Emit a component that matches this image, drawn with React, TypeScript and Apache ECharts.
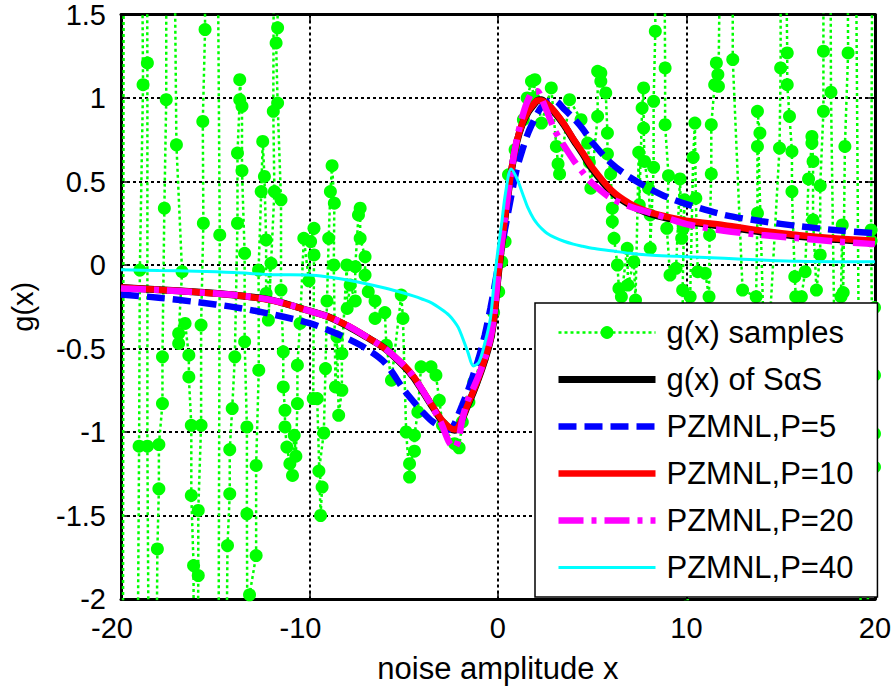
import React, { useEffect, useRef } from 'react';
import * as echarts from 'echarts';

const FONT = '"Liberation Sans", Arial, Helvetica, sans-serif';

const legendNames = ['g(x) samples', 'g(x) of S\u03b1S', 'PZMNL,P=5', 'PZMNL,P=10', 'PZMNL,P=20', 'PZMNL,P=40'];

// noisy samples of g(x) in order of x; values beyond the axis range are clipped
const samplePts: [number, number][] = [
  [-19.85, 3], [-19.9, -3],
  [-19.15, -3], [-19.04, -1.085], [-19.0, -0.03], [-18.83, 1.08], [-18.95, 3],
  [-18.65, 3], [-18.6, 1.21], [-18.6, -1.085], [-18.5, -3],
  [-18.15, -3], [-18.07, -1.7], [-17.99, -1.34], [-17.99, -1.075], [-17.8, -0.83], [-17.8, -0.55], [-17.7, 0.34], [-17.6, 0.99], [-17.6, 3],
  [-17.25, 3], [-17.06, 0.72], [-16.76, -0.04], [-16.94, -0.41], [-16.94, -0.47], [-16.6, -0.35], [-16.4, -0.54], [-16.4, -0.67], [-16.27, -0.96], [-16.27, -1.38], [-16.15, -1.8], [-16.15, -3],
  [-15.95, -3], [-15.9, -1.86], [-15.9, -1.47], [-15.75, -0.96], [-15.75, -0.36], [-15.63, 0.25], [-15.66, 0.86], [-15.54, 1.41], [-15.57, 3],
  [-14.93, 3], [-14.76, 0.18], [-14.84, -3],
  [-14.45, -3], [-14.35, -1.68], [-14.23, -1.37], [-14.23, -1.105], [-14.1, -0.86], [-13.96, -0.55], [-13.82, 0.25], [-13.82, 0.67], [-13.7, 0.99], [-13.7, 1.11], [-13.58, 0.95], [-13.58, 0.565], [-13.44, 0.07], [-13.44, -0.46], [-13.32, -0.97], [-13.32, -1.49], [-13.27, -3],
  [-13.09, -3], [-13.18, -1.975], [-12.83, -1.74], [-12.83, -1.2], [-12.69, -0.63], [-12.7, -0.03], [-12.56, 0.44], [-12.48, 0.74], [-12.39, 0.53], [-12.3, 0.15], [-12.3, -0.17], [-12.04, 0.01], [-12.18, -0.33], [-11.86, 0.44], [-11.92, 0.92], [-11.86, 3],
  [-11.7, 3], [-11.69, 1.42], [-11.77, 1.33], [-11.69, 0.97], [-11.51, 0.39], [-11.51, -0.15], [-11.39, -0.52], [-11.39, -0.73], [-11.3, -0.87], [-11.3, -0.97], [-11.2, -1.09], [-11.04, -1.19], [-10.9, -1.26], [-10.81, -1.02], [-10.72, -1.145], [-10.64, -0.83], [-10.64, -0.6], [-10.5, -0.35],
  [-10.3, 0.16], [-10.03, -0.095], [-9.94, 0.14], [-9.76, 0.22], [-9.76, 0.06], [-9.8, -0.8], [-9.59, -0.8], [-9.41, -1.5], [-9.33, -1.33], [-9.5, -1.234], [-9.24, -1.006], [-9.15, -0.62], [-9.07, -0.215],
  [-8.98, 0.16], [-8.89, 0.44], [-8.8, 0.595], [-8.68, 0.37], [-8.71, 0.0], [-8.62, -0.73], [-8.54, -0.43], [-8.45, -0.9], [-8.28, -0.75], [-8.28, -0.53], [-8.02, 0.0], [-8.0, -0.26],
  [-7.84, -0.12], [-7.57, -0.215], [-7.57, -0.01], [-7.4, 0.3], [-7.31, 0.34], [-7.31, 0.16], [-7.05, 0.05], [-7.05, -0.06], [-6.88, -0.16], [-6.52, -0.215], [-6.52, -0.32],
  [-6.0, -0.285], [-5.92, -0.48], [-5.65, -0.69], [-5.13, -0.18], [-5.04, -0.32], [-4.87, -1.0], [-4.69, -1.27], [-4.69, -1.19], [-4.43, -1.115], [-4.43, -1.02], [-4.25, -0.88], [-4.08, -0.61],
  [-3.55, -0.61], [-3.29, -0.66], [-3.11, -0.81], [-2.94, -0.96], [-2.3, -1.07], [-2.06, -1.095], [-1.89, -0.94], [-1.54, -0.82], [-1.28, -0.7], [-0.84, -0.56], [-0.49, -0.42], [-0.23, -0.285],
  [0.04, -0.16], [0.2, 0.02], [0.38, 0.14], [0.56, 0.54], [0.91, 0.69], [1.35, 0.87], [1.55, 1.0], [1.78, 1.1], [1.9, 1.0], [1.96, 1.11], [2.31, 0.85], [2.83, 1.06], [3.1, 0.71], [3.19, 0.605], [3.27, 0.545],
  [3.8, 0.99], [4.41, 0.87], [4.76, 0.73], [4.85, 0.615], [4.93, 0.46], [5.29, 0.89], [5.29, 1.16], [5.46, 1.15], [5.46, 1.1], [5.72, 1.03], [5.81, 0.79], [5.81, 0.665], [5.98, 0.545],
  [6.07, 0.34], [6.07, 0.26], [6.16, 0.16], [6.34, 0.0], [6.42, -0.14], [6.55, -0.19], [6.86, 0.1], [6.9, -0.12], [7.21, 0.02], [7.3, -0.21], [7.47, 0.675], [7.5, 0.36], [7.65, 0.94], [7.73, 1.06], [7.73, 0.82], [7.78, 0.62], [7.99, 0.46], [8.08, 0.3], [8.08, 0.1], [8.26, 0.585], [8.26, 0.98], [8.35, 1.4], [8.35, 3],
  [8.78, 3], [8.87, 1.18], [8.87, 0.84], [9.05, 0.535], [8.96, 0.22], [9.13, -0.06], [9.45, -0.02], [9.66, 0.515], [9.75, 0.16], [9.83, 0.22], [9.9, 0.39], [9.8, -0.15], [10.0, -3],
  [10.2, -0.19], [10.36, 0.645], [10.45, 0.85], [10.5, 0.4], [10.6, -0.04], [11.0, -0.05], [11.2, -0.19], [11.23, 0.18], [11.32, 0.545], [11.32, 0.84], [11.5, 1.08], [11.59, 1.21], [11.67, 1.14], [11.7, 1.07], [11.9, 3],
  [12.45, 3], [12.46, 1.23], [12.98, -0.15], [13.7, -0.19], [13.77, 0.31], [13.77, 0.71], [13.9, 0.79], [13.77, 0.92], [14.2, -0.8], [14.94, 0.7], [15.0, 1.18], [15.0, 3],
  [15.17, 3], [15.35, 1.27], [15.35, 1.08], [15.47, 0.89], [15.6, 0.68], [15.6, 0.44], [15.75, -0.07], [15.8, -0.19], [15.9, -0.8], [16.1, -0.19], [16.3, -0.04], [16.48, 0.515], [16.66, 0.73], [16.66, 0.77], [16.72, 0.62], [16.72, 0.27], [16.9, -0.15], [17.1, 0.06], [17.1, 0.475], [17.27, 0.92], [17.27, 1.28], [17.27, 3],
  [17.62, 3], [17.67, 1.035], [17.9, -0.8], [18.2, -0.19], [18.27, 0.24], [18.32, -0.165], [18.41, 0.71], [18.58, 1.27], [18.5, 3],
  [18.93, 3], [19.3, -3],
  [19.63, -3], [19.63, -1.35], [19.98, -1.21], [19.98, -1.01], [19.98, -0.66], [19.98, -0.255], [19.84, -0.27], [19.8, 0.145], [19.8, 0.21], [19.9, 3],
];

const curveX = [-20, -18, -16, -14, -12, -10, -9, -8, -7, -6, -5, -4.5, -4, -3.5, -3, -2.6, -2.3, -2.1, -1.9, -1.6, -1.3, -1, -0.7, -0.4, -0.2, 0, 0.2, 0.4, 0.7, 1, 1.3, 1.6, 1.9, 2.1, 2.3, 2.6, 3, 3.5, 4, 4.5, 5, 6, 7, 8, 9, 10, 12, 14, 16, 18, 20];

const gSaS = [-0.135, -0.148, -0.162, -0.18, -0.21, -0.275, -0.31, -0.365, -0.43, -0.5, -0.605, -0.67, -0.755, -0.845, -0.93, -0.975, -0.99, -0.975, -0.925, -0.84, -0.76, -0.67, -0.57, -0.45, -0.31, -0.08, 0.12, 0.3, 0.55, 0.735, 0.845, 0.915, 0.96, 0.985, 0.99, 0.965, 0.915, 0.84, 0.75, 0.665, 0.575, 0.44, 0.36, 0.31, 0.28, 0.26, 0.23, 0.198, 0.17, 0.152, 0.138];

const pz5 = [-0.176, -0.196, -0.222, -0.252, -0.295, -0.348, -0.39, -0.44, -0.5, -0.585, -0.745, -0.815, -0.88, -0.935, -0.97, -0.987, -0.95, -0.895, -0.84, -0.755, -0.655, -0.55, -0.42, -0.26, -0.14, -0.01, 0.11, 0.23, 0.41, 0.575, 0.69, 0.79, 0.865, 0.91, 0.945, 0.975, 0.985, 0.935, 0.88, 0.815, 0.735, 0.61, 0.525, 0.46, 0.405, 0.365, 0.3, 0.262, 0.232, 0.208, 0.19];

const pz10 = [-0.135, -0.148, -0.162, -0.18, -0.212, -0.275, -0.31, -0.362, -0.428, -0.5, -0.6, -0.665, -0.75, -0.84, -0.925, -0.97, -0.985, -0.97, -0.92, -0.835, -0.755, -0.665, -0.565, -0.445, -0.305, -0.075, 0.125, 0.305, 0.555, 0.74, 0.85, 0.92, 0.965, 0.985, 0.985, 0.965, 0.92, 0.845, 0.755, 0.672, 0.585, 0.45, 0.368, 0.318, 0.288, 0.265, 0.238, 0.205, 0.178, 0.158, 0.145];

const pz20 = [-0.14, -0.15, -0.163, -0.18, -0.21, -0.275, -0.31, -0.362, -0.428, -0.5, -0.6, -0.665, -0.75, -0.845, -0.95, -1.06, -1.095, -1.05, -0.93, -0.81, -0.735, -0.655, -0.56, -0.44, -0.3, -0.07, 0.13, 0.31, 0.56, 0.75, 0.89, 0.99, 1.04, 1.04, 1.0, 0.92, 0.81, 0.715, 0.63, 0.555, 0.49, 0.4, 0.35, 0.315, 0.28, 0.245, 0.205, 0.18, 0.16, 0.14, 0.125];

const pz40 = [-0.028, -0.033, -0.037, -0.045, -0.058, -0.06, -0.072, -0.09, -0.112, -0.138, -0.168, -0.185, -0.205, -0.228, -0.265, -0.3, -0.34, -0.375, -0.43, -0.52, -0.605, -0.58, -0.47, -0.32, -0.1, 0.09, 0.25, 0.43, 0.575, 0.52, 0.43, 0.34, 0.275, 0.245, 0.22, 0.19, 0.165, 0.142, 0.125, 0.112, 0.1, 0.085, 0.07, 0.06, 0.054, 0.05, 0.04, 0.03, 0.022, 0.02, 0.02];

const pairs = (ys: number[]) => curveX.map((x, i) => [x, ys[i]]);

const GREEN = '#00ff00';
const styles = [
  { color: GREEN, width: 2.5, type: [3, 3] as any },
  { color: '#000000', width: 7, type: 'solid' as any },
  { color: '#0000ff', width: 6.5, type: [18, 8] as any },
  { color: '#ff0000', width: 6.5, type: 'solid' as any },
  { color: '#ff00ff', width: 6.5, type: [25, 8, 5, 8] as any },
  { color: '#00ffff', width: 3, type: 'solid' as any },
];

export default function App() {
  const ref = useRef<HTMLDivElement>(null);
  useEffect(() => {
    if (!ref.current) return;
    const chart = echarts.init(ref.current, null, { renderer: 'svg' });
    const axisLine = { show: true, onZero: false, lineStyle: { color: '#000', width: 3 } };
    const tick = { show: true, inside: true, length: 8, lineStyle: { color: '#000', width: 1.5 } };
    const split = { show: true, lineStyle: { color: '#000', width: 2, type: [3, 3] } };
    const labelStyle = { color: '#000', fontSize: 29, fontFamily: FONT };
    const curve = (i: number, ys: number[], z: number) => ({
      name: legendNames[i], type: 'line', data: pairs(ys), symbol: 'none', smooth: 0.3, clip: true, z,
      lineStyle: { ...styles[i] }, itemStyle: { color: styles[i].color }, silent: true,
    });
    chart.setOption({
      animation: false,
      textStyle: { fontFamily: FONT },
      grid: { left: 116, right: 16, top: 10, bottom: 88, containLabel: false },
      xAxis: [
        {
          type: 'value', min: -20, max: 20, interval: 10, position: 'bottom',
          axisLine, axisTick: tick, splitLine: split,
          axisLabel: {
            ...labelStyle, margin: 14,
            formatter: (v: number) => (v < 0 ? `{n|${v}}` : `${v}`),
            rich: { n: { ...labelStyle, padding: [0, 18, 0, 0] } },
          },
          name: 'noise amplitude x', nameLocation: 'middle', nameGap: 54,
          nameTextStyle: { ...labelStyle, fontSize: 31 },
        },
        {
          type: 'value', min: -20, max: 20, interval: 10, position: 'top',
          axisLine, axisTick: tick, splitLine: { show: false }, axisLabel: { show: false },
        },
      ],
      yAxis: [
        {
          type: 'value', min: -2, max: 1.5, interval: 0.5, position: 'left',
          axisLine, axisTick: tick, splitLine: split,
          axisLabel: { ...labelStyle, margin: 15 },
          name: 'g(x)', nameLocation: 'middle', nameGap: 84,
          nameTextStyle: { ...labelStyle },
        },
        {
          type: 'value', min: -2, max: 1.5, interval: 0.5, position: 'right',
          axisLine, axisTick: tick, splitLine: { show: false }, axisLabel: { show: false },
        },
      ],
      legend: {
        orient: 'vertical', left: 535, top: 303,
        data: legendNames.map((name, i) => ({
          name,
          itemStyle: i === 0 ? { color: GREEN } : { opacity: 0 },
          lineStyle: { color: styles[i].color, width: styles[i].width, type: styles[i].type, opacity: 1 },
        })),
        itemWidth: 97, itemHeight: 16, itemGap: 16,
        padding: [14, 24, 14, 20],
        backgroundColor: '#fff', borderColor: '#000', borderWidth: 1.5, borderRadius: 0,
        selectedMode: false,
        textStyle: { color: '#000', fontSize: 31, fontFamily: FONT, lineHeight: 30, width: 178, padding: [0, 0, 0, 6] },
      },
      series: [
        {
          name: legendNames[0], type: 'line', data: samplePts, symbol: 'circle', symbolSize: 13, showSymbol: true,
          clip: true, z: 2, silent: true,
          itemStyle: { color: GREEN },
          lineStyle: { ...styles[0] },
        },
        curve(1, gSaS, 3),
        curve(2, pz5, 4),
        curve(3, pz10, 5),
        curve(4, pz20, 6),
        curve(5, pz40, 7),
      ],
    });
    return () => chart.dispose();
  }, []);
  return <div ref={ref} style={{ position: 'fixed', left: 0, top: 0, width: 894, height: 689, background: '#fff' }} />;
}
